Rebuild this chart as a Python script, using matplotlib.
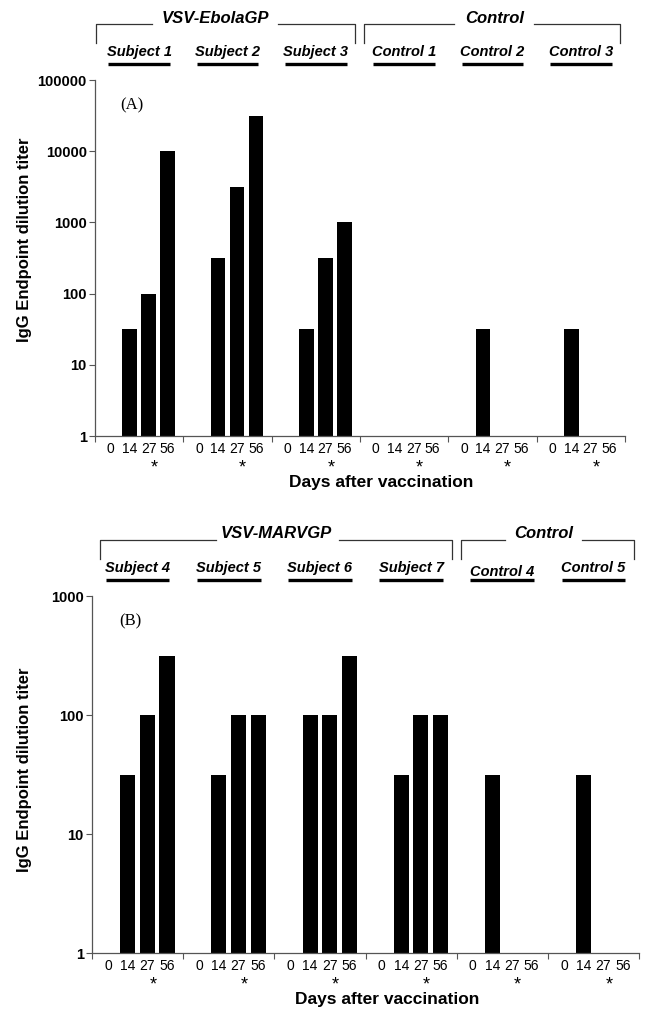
import numpy as np
import matplotlib
matplotlib.use("Agg")
import matplotlib.pyplot as plt
from matplotlib.transforms import blended_transform_factory

plt.rcParams['font.family'] = ['Liberation Sans', 'DejaVu Sans']

# ---- data (titers; 1 = baseline / no bar) ----
days = ['0', '14', '27', '56']

groups_a = ['Subject 1', 'Subject 2', 'Subject 3', 'Control 1', 'Control 2', 'Control 3']
titers_a = [
    [1, 31.6, 100, 10000],
    [1, 316, 3162, 31623],
    [1, 31.6, 316, 1000],
    [1, 1, 1, 1],
    [1, 31.6, 1, 1],
    [1, 31.6, 1, 1],
]

groups_b = ['Subject 4', 'Subject 5', 'Subject 6', 'Subject 7', 'Control 4', 'Control 5']
titers_b = [
    [1, 31.6, 100, 316],
    [1, 31.6, 100, 100],
    [1, 100, 100, 316],
    [1, 31.6, 100, 100],
    [1, 31.6, 1, 1],
    [1, 31.6, 1, 1],
]

yticks_a = [1, 10, 100, 1000, 10000, 100000]
yticks_b = [1, 10, 100, 1000]

# brackets: (label, left, right, text x, gap left, gap right) in group units
brackets_a = [('VSV-EbolaGP', 0.01, 2.94, 1.36, 0.64, 2.07),
              ('Control', 3.05, 5.94, 4.52, 4.06, 4.97)]
brackets_b = [('VSV-MARVGP', 0.09, 3.95, 2.02, 1.36, 2.71),
              ('Control', 4.05, 5.94, 4.95, 4.53, 5.38)]

slot = 0.215
bar_w = 0.165
spine_col = '#555555'

fig = plt.figure(figsize=(6.49, 10.22), dpi=100)


def panel(rect, groups, titers, yticks, brackets, tag, ylab_y):
    ax = fig.add_axes(rect)
    n = len(groups)
    offs = (np.arange(len(days)) - 1.5) * slot
    for i, vals in enumerate(titers):
        x = i + 0.5 + offs
        v = np.array(vals, dtype=float)
        ax.bar(x, v - 1, bottom=1, width=bar_w, color='black', linewidth=0)

    ax.set_yscale('log')
    ax.set_ylim(1, yticks[-1])
    ax.set_xlim(0, n)
    ax.set_yticks(yticks)
    ax.set_yticklabels([str(t) for t in yticks], fontsize=10.5, fontweight='bold')
    ax.yaxis.set_minor_locator(matplotlib.ticker.NullLocator())
    ax.tick_params(axis='y', direction='out', length=4, width=0.8, color=spine_col, pad=2)

    # group boundaries as major ticks, day labels as minor ticks
    ax.set_xticks(np.arange(n + 1))
    ax.set_xticklabels([])
    ax.tick_params(axis='x', which='major', direction='out', length=4, width=0.8, color=spine_col)
    minor = np.concatenate([i + 0.5 + offs for i in range(n)])
    ax.set_xticks(minor, minor=True)
    ax.set_xticklabels(days * n, minor=True, fontsize=10)
    ax.tick_params(axis='x', which='minor', length=0, pad=4)

    for s in ['top', 'right']:
        ax.spines[s].set_visible(False)
    for s in ['left', 'bottom']:
        ax.spines[s].set_color(spine_col)
        ax.spines[s].set_linewidth(0.9)

    tr = blended_transform_factory(ax.transData, ax.transAxes)
    for i in range(n):
        ax.text(i + 0.67, -0.09, '*', transform=tr, ha='center', va='center', fontsize=13)
        ly = 1.068 if groups[i] == 'Control 4' else 1.078
        ax.text(i + 0.5, ly, groups[i], transform=tr, ha='center', va='center',
                fontsize=10.5, fontweight='bold', fontstyle='italic')
        ax.plot([i + 0.15, i + 0.85], [1.045, 1.045], transform=tr, color='black',
                lw=2.4, clip_on=False, solid_capstyle='butt')

    for lab, l, r, tx, gl, gr in brackets:
        ax.plot([l, l, gl], [1.104, 1.157, 1.157], transform=tr, color='#333333', lw=0.9, clip_on=False)
        ax.plot([gr, r, r], [1.157, 1.157, 1.104], transform=tr, color='#333333', lw=0.9, clip_on=False)
        ax.text(tx, 1.174, lab, transform=tr, ha='center', va='center',
                fontsize=12, fontweight='bold', fontstyle='italic')

    ax.text(0.07, 0.93, tag, transform=ax.transAxes, ha='center', va='center',
            fontsize=12, family=['Liberation Serif', 'DejaVu Serif'])
    ax.text(0.54, -0.13, 'Days after vaccination', transform=ax.transAxes,
            ha='center', va='center', fontsize=12.5, fontweight='bold')
    fig.text(25 / 649, ylab_y, 'IgG Endpoint dilution titer', rotation=90,
             ha='center', va='center', fontsize=12, fontweight='bold')
    return ax


panel([95 / 649, 1 - 436 / 1022, 530 / 649, 356 / 1022],
      groups_a, titers_a, yticks_a, brackets_a, '(A)', 1 - 240 / 1022)
panel([92 / 649, 1 - 953 / 1022, 547 / 649, 357 / 1022],
      groups_b, titers_b, yticks_b, brackets_b, '(B)', 1 - 770 / 1022)

fig.savefig('out.png', dpi=100)
